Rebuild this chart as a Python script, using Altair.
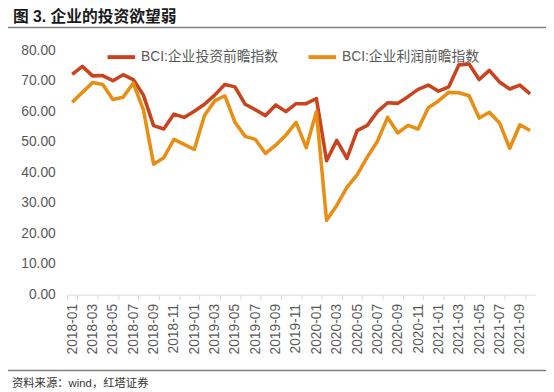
import altair as alt
import pandas as pd

months = [f"{y}-{m:02d}" for y in range(2018, 2022) for m in range(1, 13)][:46]
invest = [72.1, 74.7, 71.6, 71.7, 70.0, 72.0, 70.4, 65.3, 55.3, 54.2, 59.1, 58.0,
          60.0, 62.3, 65.3, 68.8, 68.0, 62.3, 60.5, 58.6, 62.1, 59.9, 62.5, 62.5,
          64.2, 43.8, 50.5, 44.6, 53.7, 55.4, 59.9, 62.8, 62.6, 64.8, 67.2, 68.6,
          66.6, 68.0, 75.2, 75.5, 70.4, 73.4, 69.6, 67.3, 68.6, 65.7]
profit = [63.0, 66.2, 69.4, 68.8, 63.9, 64.6, 69.2, 60.5, 42.7, 44.8, 50.8, 49.2,
          47.5, 58.6, 63.4, 65.1, 56.4, 51.8, 50.8, 46.2, 48.9, 52.2, 56.4, 48.1,
          59.9, 24.3, 29.2, 35.1, 39.2, 45.0, 50.2, 58.0, 52.9, 55.4, 54.2, 61.2,
          63.4, 66.2, 66.1, 65.1, 57.8, 59.7, 56.2, 47.9, 55.6, 53.7]
series_names = ["BCI:企业投资前瞻指数", "BCI:企业利润前瞻指数"]
series_colors = ["#C8431E", "#E88E14"]
y_ticks = [0, 10, 20, 30, 40, 50, 60, 70, 80]
x_label_months = months[::2]
title_text = ["图 3. 企业的投资欲望弱"]
source_text = ["资料来源：wind，红塔证券"]

FONT = "Liberation Sans, Arial, Noto Sans CJK SC"
GRAY = "#595959"

df = pd.DataFrame({
    "month": months * 2,
    "value": invest + profit,
    "series": [series_names[0]] * len(months) + [series_names[1]] * len(months),
})

# The view covers the whole canvas; the data scales map into an inner region.
lines = alt.Chart(df).mark_line(strokeWidth=3.6, strokeJoin="round").encode(
    x=alt.X("month:O", sort=months, bandPosition=0.5,
            scale=alt.Scale(type="band", paddingInner=0, paddingOuter=0,
                            range=[60, 535]),
            axis=alt.Axis(values=x_label_months, labelAngle=-90, tickBand="extent",
                          title=None, domainColor="#D9D9D9", tickColor="#D9D9D9",
                          tickSize=5, labelPadding=4, labelFontSize=14,
                          labelColor=GRAY, labelFont=FONT, grid=False,
                          offset=-96)),
    y=alt.Y("value:Q", scale=alt.Scale(domain=[0, 80], nice=False, range=[288, 40]),
            axis=alt.Axis(values=y_ticks, format=".2f", grid=False, domain=False,
                          ticks=False, labelPadding=12, title=None,
                          labelFontSize=14, labelColor=GRAY, labelFont=FONT,
                          offset=-60)),
    color=alt.Color("series:N",
                    scale=alt.Scale(domain=series_names, range=series_colors),
                    legend=alt.Legend(orient="none", legendX=99, legendY=31,
                                      direction="horizontal", title=None,
                                      symbolType="stroke", symbolStrokeWidth=4,
                                      symbolSize=784, labelFontSize=14,
                                      labelColor=GRAY, labelFont=FONT,
                                      columnPadding=22, labelLimit=0,
                                      labelOffset=4)),
)

title = alt.Chart(pd.DataFrame({"t": title_text})).mark_text(
    align="left", baseline="middle", fontSize=16, fontWeight="bold",
    font=FONT, color="#1a1a1a"
).encode(x=alt.value(5), y=alt.value(6), text="t:N")

sep = pd.DataFrame({"x0": [0, 0], "x1": [546, 546], "y0": [17, 365]})
separators = alt.Chart(sep).mark_rule(color="#7F7F7F", strokeWidth=1.4).encode(
    x=alt.X("x0:Q", scale=None), x2="x1:Q",
    y=alt.Y("y0:Q", scale=None),
)

source = alt.Chart(pd.DataFrame({"t": source_text})).mark_text(
    align="left", baseline="middle", fontSize=11.5, font=FONT, color="#333333"
).encode(x=alt.value(4), y=alt.value(379), text="t:N")

chart = alt.layer(lines, title, separators, source).properties(
    width=546, height=384,
    autosize="none",
    padding=0,
    background="white",
).configure_view(stroke=None)

chart.save("out.html", embed_options={"renderer": "svg", "actions": False})
